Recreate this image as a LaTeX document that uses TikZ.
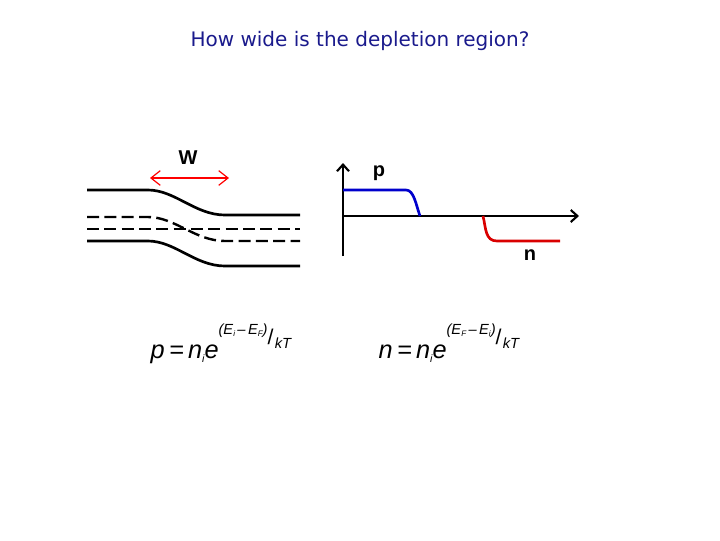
\documentclass[tikz,border=0pt]{standalone}
\usepackage{fontspec}
\setmainfont{Liberation Sans}
\newfontfamily\titlefont{DejaVu Sans}
\usetikzlibrary{arrows.meta}
\newcommand{\subx}[1]{\raisebox{-2pt}{\fontsize{6}{6}\selectfont #1}}
\newcommand{\expo}[2]{\raisebox{18pt}{\fontsize{11}{11}\selectfont (E\subx{#1}\,–\,E\subx{#2})}\raisebox{10pt}{\fontsize{16}{16}\selectfont\upshape/}\kern1pt\raisebox{7pt}{\fontsize{11}{11}\selectfont kT}}
\begin{document}
\begin{tikzpicture}[x=0.75pt,y=-0.75pt,
  band/.style={line width=2pt,black},
  dash band/.style={line width=1.8pt,black,dash pattern=on 9pt off 4pt},
  lbl/.style={font=\bfseries\fontsize{15}{15}\selectfont},
  eq/.style={font=\fontsize{19}{19}\selectfont,anchor=base west}]
\useasboundingbox (0,0) rectangle (720,540);
\node (title) at (360,41) {\titlefont\fontsize{15}{15}\selectfont\color[HTML]{1A1A8C}How wide is the depletion region?};
% band diagram
\draw[band] (87,190) -- (148,190) .. controls (175,190) and (195,215) .. (225,215) -- (300,215);
\draw[dash band] (87,217) -- (148,217) .. controls (175,217) and (195,241) .. (225,241) -- (300,241);
\draw[dash band] (87,229) -- (300,229);
\draw[band] (87,241) -- (148,241) .. controls (175,241) and (195,266) .. (225,266) -- (300,266);
\coordinate (wl) at (150,178); \coordinate (wr) at (229,178);
\draw[red,line width=0.9pt,{Straight Barb[length=7pt,width=11pt]}-{Straight Barb[length=7pt,width=11pt]}] (wl) -- (wr);
\node[lbl] (W) at (188,158) {W};
% p/n plot
\coordinate (o) at (343,216);
\coordinate (ytop) at (343,163); \coordinate (ybot) at (343,256);
\coordinate (xend) at (579,216);
\draw[line width=1.6pt,-{Straight Barb[length=5pt,width=9pt]}] (ybot) -- (ytop);
\draw[line width=1.6pt,-{Straight Barb[length=5pt,width=9pt]}] (o) -- (xend);
\draw[blue!80!black,line width=2pt] (343,190) -- (406,190) .. controls (414,190) and (416,205) .. (420,216);
\draw[red!85!black,line width=2pt] (483,216) .. controls (486,228) and (485,241) .. (497,241) -- (560,241);
\node[lbl] (p) at (379,173) {p};
\node[lbl] (n) at (530,255) {n};
% equations
\node[eq] (eq1) at (146,358) {\itshape p\,=\,n\raisebox{-3pt}{\fontsize{8}{8}\selectfont i}e\expo{i}{F}};
\node[eq] (eq2) at (374,358) {\itshape n\,=\,n\raisebox{-3pt}{\fontsize{8}{8}\selectfont i}e\expo{F}{i}};
\end{tikzpicture}
\end{document}
